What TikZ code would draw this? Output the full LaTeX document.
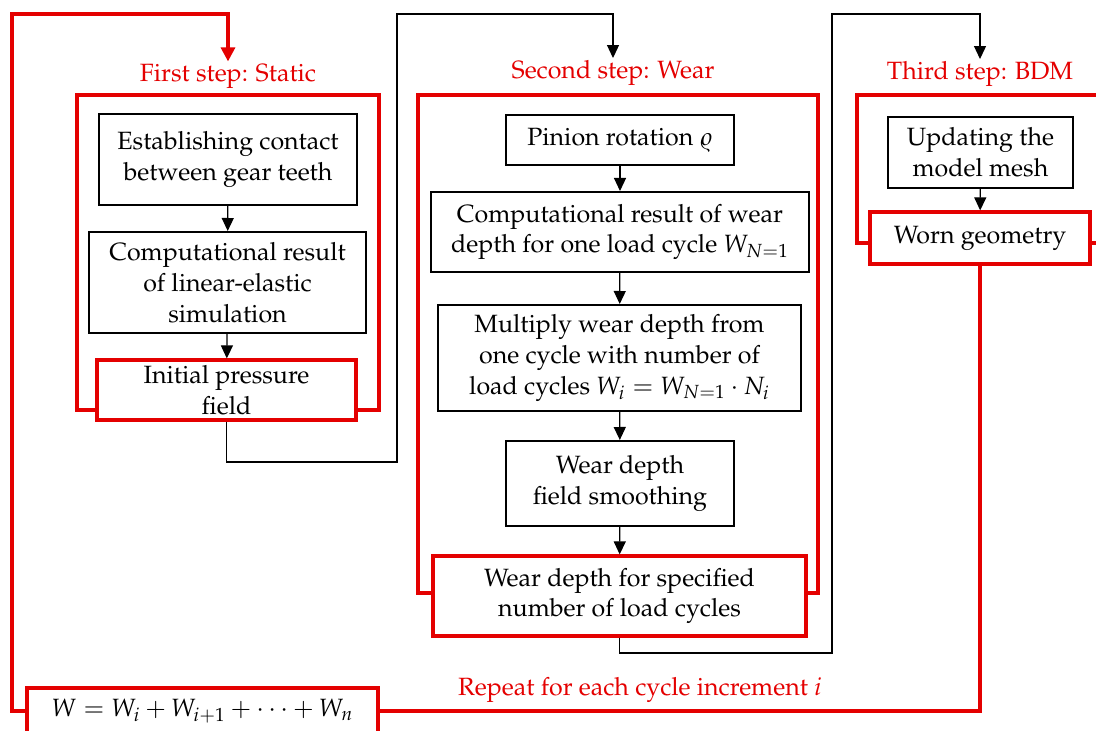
\documentclass[tikz,border=0pt]{standalone}
\usepackage[T1]{fontenc}
\usepackage{mathpazo}
\usetikzlibrary{arrows.meta}
\definecolor{stepred}{RGB}{228,0,0}
\tikzset{
  blackbox/.style={draw, line width=1pt, fill=white, align=center, inner sep=0pt},
  redbox/.style={draw=stepred, line width=1.6pt, fill=white, align=center, inner sep=0pt},
  steplabel/.style={text=stepred, inner sep=1pt},
  frame/.style={draw=stepred, line width=1.6pt},
  arr/.style={line width=0.6pt, -{Triangle[width=6pt,length=6.5pt]}},
  redarr/.style={draw=stepred, line width=1.6pt, -{Triangle[width=7pt,length=7pt]}},
}
\begin{document}
\begin{tikzpicture}[x=0.5pt, y=-0.5pt, font=\fontsize{12.5}{15.4}\selectfont]
\useasboundingbox (0,0) rectangle (1096,731);
\draw[frame] (77,95) rectangle (379,410);
\draw[frame] (418,95) rectangle (818,593);
\draw[frame] (857,95) rectangle (1120,243);
\node[steplabel] (lstat) at (228,76) {First step: Static};
\node[steplabel] (lwear) at (613,73) {Second step: Wear};
\node[steplabel] (lbdm) at (980,74) {Third step: BDM};
\node[blackbox, minimum width=129pt, minimum height=45.5pt] (est) at (228,159.5) {Establishing contact\\between gear teeth};
\node[blackbox, minimum width=138.5pt, minimum height=50.5pt] (comp) at (227.5,282.5) {Computational result\\of linear-elastic\\simulation};
\node[redbox, minimum width=129.5pt, minimum height=30pt] (init) at (226.5,390) {Initial pressure\\field};
\node[blackbox, minimum width=114pt, minimum height=25pt] (pin) at (620,140) {Pinion rotation $\varrho$};
\node[blackbox, minimum width=189pt, minimum height=40pt] (wone) at (620,232) {Computational result of wear\\depth for one load cycle $W_{N=1}$};
\node[blackbox, minimum width=181.5pt, minimum height=53pt] (mult) at (619.5,358) {Multiply wear depth from\\one cycle with number of\\load cycles $W_i=W_{N=1}\cdot N_i$};
\node[blackbox, minimum width=114pt, minimum height=42.5pt] (smooth) at (620,483.5) {Wear depth\\field smoothing};
\node[redbox, minimum width=186.5pt, minimum height=40pt] (spec) at (619.5,596) {Wear depth for specified\\number of load cycles};
\node[blackbox, minimum width=92.5pt, minimum height=35.5pt] (upd) at (980.5,152.5) {Updating the\\model mesh};
\node[redbox, minimum width=110pt, minimum height=26pt] (worn) at (980,238) {Worn geometry};
\node[redbox, minimum width=175.5pt, minimum height=23pt] (sum) at (202.5,711) {$W=W_i+W_{i+1}+\cdots+W_n$};
\node[steplabel] (lrep) at (640,690) {Repeat for each cycle increment $i$};
\coordinate (ta) at (397,462);
\coordinate (tb) at (397,14);
\coordinate (tc) at (832,653);
\coordinate (td) at (832,14);
\coordinate (tf) at (12,14);
\draw[arr] (est) -- (comp);
\draw[arr] (comp) -- (init);
\draw[arr] (init.south) |- (ta) -- (tb) -| (lwear.north);
\draw[arr] (pin) -- (wone);
\draw[arr] (wone) -- (mult);
\draw[arr] (mult) -- (smooth);
\draw[arr] (smooth) -- (spec);
\draw[arr] (spec.south) |- (tc) -- (td) -| (lbdm.north);
\draw[arr] (upd) -- (worn);
\draw[frame] (worn.south) |- (sum.east);
\draw[redarr] (sum.west) -| (tf) -| (lstat.north);
\end{tikzpicture}
\end{document}
